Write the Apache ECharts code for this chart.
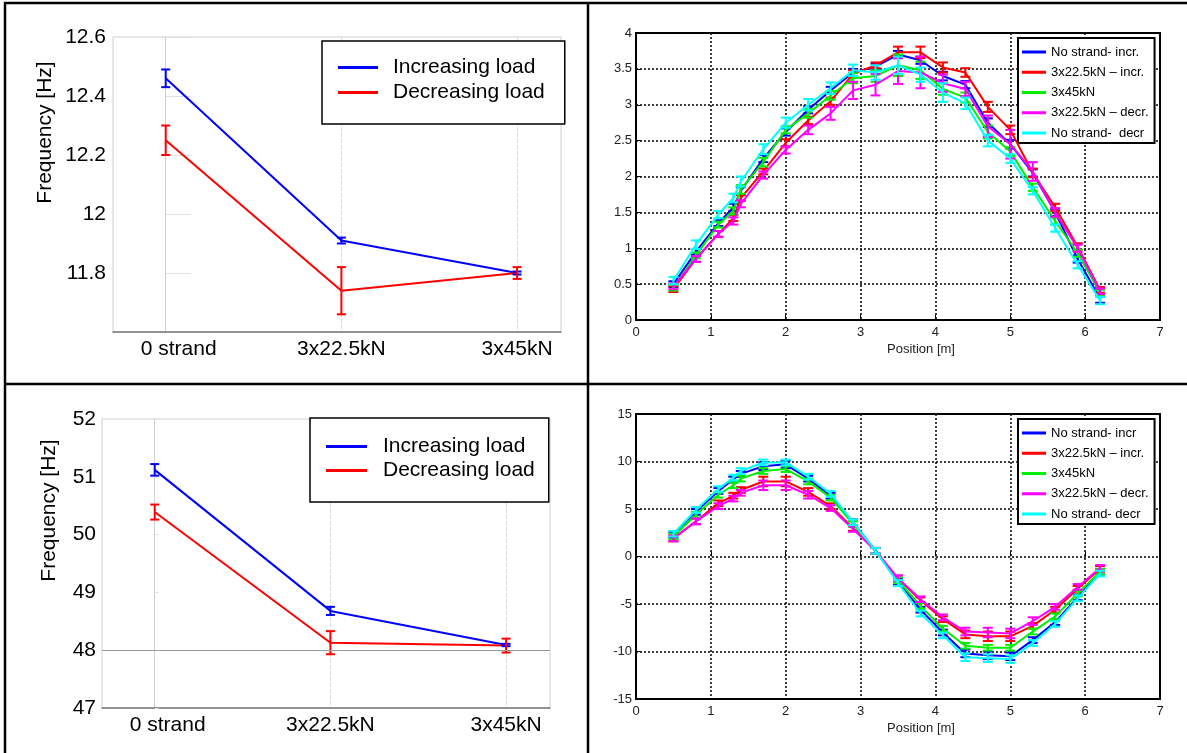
<!DOCTYPE html>
<html><head><meta charset="utf-8">
<script src="https://cdn.jsdelivr.net/npm/echarts@6/dist/echarts.min.js"></script>
<style>html,body{margin:0;padding:0;background:#fff}#c{width:1187px;height:753px}</style>
</head><body><div id="c"></div>
<script>
// ---------- left panels (frequencies) ----------
const categories = ['0 strand', '3x22.5kN', '3x45kN'];
const f1Inc = [12.46, 11.91, 11.80];
const f1IncErr = [0.03, 0.01, 0.005];
const f1Dec = [12.25, 11.74, 11.80];
const f1DecErr = [0.05, 0.08, 0.02];
const f2Inc = [51.12, 48.68, 48.09];
const f2IncErr = [0.10, 0.07, 0.02];
const f2Dec = [50.39, 48.13, 48.08];
const f2DecErr = [0.13, 0.20, 0.12];
const leftSeriesNames = ['Increasing load', 'Decreasing load'];

// ---------- right panels (mode shapes) ----------
const positions = [0.5,0.8,1.1,1.3,1.4,1.7,2.0,2.3,2.6,2.9,3.2,3.5,3.8,4.1,4.4,4.7,5.0,5.3,5.6,5.9,6.2];
const mode1Names = ['No strand- incr.', '3x22.5kN \u2013 incr.', '3x45kN', '3x22.5kN \u2013 decr.', 'No strand-  decr'];
const mode1NoInc  = [0.50,0.95,1.35,1.57,1.80,2.25,2.62,2.93,3.20,3.45,3.53,3.70,3.62,3.40,3.28,2.75,2.45,2.05,1.50,0.85,0.30];
const mode1K22Inc = [0.43,0.85,1.20,1.42,1.70,2.07,2.47,2.78,3.05,3.43,3.55,3.73,3.73,3.52,3.45,2.97,2.65,2.05,1.57,1.02,0.42];
const mode1K45    = [0.45,0.90,1.33,1.52,1.82,2.20,2.65,2.88,3.13,3.37,3.40,3.55,3.48,3.22,3.10,2.62,2.35,1.85,1.38,0.93,0.38];
const mode1K22Dec = [0.47,0.85,1.20,1.38,1.62,2.02,2.37,2.65,2.88,3.20,3.28,3.47,3.45,3.30,3.22,2.70,2.45,2.07,1.50,1.00,0.40];
const mode1NoDec  = [0.55,1.05,1.47,1.70,1.93,2.38,2.75,3.00,3.23,3.48,3.45,3.55,3.42,3.17,3.02,2.50,2.25,1.80,1.28,0.77,0.27];
const mode1NoIncErr  = [0.04,0.04,0.04,0.05,0.05,0.05,0.05,0.05,0.05,0.05,0.04,0.05,0.05,0.06,0.05,0.06,0.06,0.05,0.05,0.05,0.06];
const mode1K22IncErr = [0.04,0.04,0.04,0.04,0.04,0.04,0.05,0.05,0.05,0.05,0.04,0.08,0.08,0.07,0.06,0.07,0.06,0.06,0.05,0.05,0.04];
const mode1K45Err    = [0.04,0.04,0.04,0.05,0.06,0.06,0.05,0.06,0.06,0.07,0.08,0.15,0.12,0.08,0.07,0.09,0.06,0.05,0.05,0.05,0.04];
const mode1K22DecErr = [0.04,0.04,0.04,0.05,0.05,0.05,0.05,0.06,0.09,0.12,0.15,0.18,0.22,0.12,0.10,0.15,0.20,0.13,0.06,0.05,0.04];
const mode1NoDecErr  = [0.05,0.06,0.05,0.06,0.07,0.07,0.07,0.08,0.08,0.08,0.10,0.12,0.10,0.13,0.08,0.08,0.06,0.05,0.05,0.05,0.05];

const mode2Names = ['No strand- incr', '3x22.5kN \u2013 incr.', '3x45kN', '3x22.5kN \u2013 decr.', 'No strand- decr'];
const mode2NoInc  = [2.3,4.7,6.9,8.1,8.7,9.5,9.7,8.2,6.4,3.6,0.6,-2.6,-5.6,-8.0,-10.2,-10.4,-10.5,-8.8,-6.9,-4.3,-1.6];
const mode2K22Inc = [1.9,3.7,5.6,6.4,7.0,7.9,7.9,6.8,5.3,3.0,0.6,-2.3,-4.6,-6.6,-8.2,-8.4,-8.4,-7.3,-5.6,-3.4,-1.3];
const mode2K45    = [2.1,4.4,6.5,7.5,8.2,9.0,9.2,7.9,6.2,3.4,0.6,-2.5,-5.2,-7.6,-9.4,-9.6,-9.6,-7.9,-6.3,-3.9,-1.6];
const mode2K22Dec = [1.9,3.7,5.3,6.1,6.7,7.5,7.5,6.5,5.1,2.9,0.6,-2.3,-4.5,-6.4,-7.9,-8.0,-8.1,-6.8,-5.3,-3.2,-1.2];
const mode2NoDec  = [2.4,4.9,7.1,8.3,9.0,9.9,9.9,8.4,6.6,3.6,0.6,-2.8,-6.0,-8.3,-10.6,-10.7,-10.8,-9.1,-7.1,-4.4,-1.8];
const mode2NoIncErr  = [0.3,0.3,0.3,0.3,0.3,0.4,0.4,0.3,0.3,0.3,0.3,0.3,0.3,0.3,0.4,0.4,0.4,0.3,0.3,0.3,0.3];
const mode2K22IncErr = [0.3,0.3,0.3,0.3,0.3,0.5,0.5,0.4,0.3,0.3,0.3,0.3,0.3,0.3,0.4,0.5,0.5,0.3,0.3,0.3,0.3];
const mode2K45Err    = [0.3,0.3,0.3,0.3,0.3,0.3,0.3,0.3,0.3,0.3,0.3,0.3,0.3,0.3,0.3,0.3,0.3,0.3,0.3,0.3,0.3];
const mode2K22DecErr = [0.3,0.3,0.3,0.3,0.3,0.5,0.5,0.4,0.3,0.3,0.3,0.3,0.3,0.3,0.4,0.5,0.5,0.4,0.3,0.3,0.3];
const mode2NoDecErr  = [0.3,0.3,0.3,0.3,0.3,0.3,0.3,0.3,0.3,0.3,0.3,0.3,0.3,0.3,0.4,0.4,0.4,0.3,0.3,0.3,0.3];

const rightColors = ['#0000ff', '#ff0000', '#00ee00', '#ff00ff', '#00ffff'];
const leftColors = ['#0000ff', '#ff0000'];

// ---------- helpers ----------
function errRender(color, cap, lw) {
  return function (params, api) {
    const x = api.value(0), lo = api.value(1), hi = api.value(2);
    const p1 = api.coord([x, lo]), p2 = api.coord([x, hi]);
    const style = { stroke: color, lineWidth: lw, fill: null };
    return { type: 'group', children: [
      { type: 'line', shape: { x1: p1[0], y1: p1[1], x2: p2[0], y2: p2[1] }, style: style },
      { type: 'line', shape: { x1: p1[0] - cap, y1: p1[1], x2: p1[0] + cap, y2: p1[1] }, style: style },
      { type: 'line', shape: { x1: p2[0] - cap, y1: p2[1], x2: p2[0] + cap, y2: p2[1] }, style: style }
    ]};
  };
}
function lineSeries(name, xs, ys, color, idx, z) {
  return { type: 'line', name: name, xAxisIndex: idx, yAxisIndex: idx,
    data: xs.map((x, i) => [x, ys[i]]), symbol: 'none', z: z,
    lineStyle: { color: color, width: 2 }, itemStyle: { color: color }, animation: false };
}
function errSeries(name, xs, ys, es, color, idx, cap, z) {
  return { type: 'custom', name: name, xAxisIndex: idx, yAxisIndex: idx,
    data: xs.map((x, i) => [x, ys[i] - es[i], ys[i] + es[i]]),
    encode: { x: 0, y: [1, 2] }, renderItem: errRender(color, cap, 2), z: z,
    itemStyle: { color: color }, animation: false, silent: true };
}

const catIdx = categories.map((c, i) => i);
const series = [];
// top-left
series.push(lineSeries(leftSeriesNames[0], catIdx, f1Inc, leftColors[0], 0, 3));
series.push(lineSeries(leftSeriesNames[1], catIdx, f1Dec, leftColors[1], 0, 3));
series.push(errSeries(leftSeriesNames[0], catIdx, f1Inc, f1IncErr, leftColors[0], 0, 4.5, 4));
series.push(errSeries(leftSeriesNames[1], catIdx, f1Dec, f1DecErr, leftColors[1], 0, 4.5, 4));
// bottom-left
const s2 = lineSeries(leftSeriesNames[0], catIdx, f2Inc, leftColors[0], 2, 3);
s2.markLine = { silent: true, symbol: 'none', label: { show: false }, animation: false,
  lineStyle: { color: '#999', type: 'solid', width: 1 }, data: [{ yAxis: 48 }] };
series.push(s2);
series.push(lineSeries(leftSeriesNames[1], catIdx, f2Dec, leftColors[1], 2, 3));
series.push(errSeries(leftSeriesNames[0], catIdx, f2Inc, f2IncErr, leftColors[0], 2, 4.5, 4));
series.push(errSeries(leftSeriesNames[1], catIdx, f2Dec, f2DecErr, leftColors[1], 2, 4.5, 4));
// top-right
const m1 = [mode1NoInc, mode1K22Inc, mode1K45, mode1K22Dec, mode1NoDec];
const m1e = [mode1NoIncErr, mode1K22IncErr, mode1K45Err, mode1K22DecErr, mode1NoDecErr];
m1.forEach((ys, k) => {
  series.push(lineSeries(mode1Names[k], positions, ys, rightColors[k], 1, 3 + k));
  series.push(errSeries(mode1Names[k], positions, ys, m1e[k], rightColors[k], 1, 5, 3 + k));
});
// bottom-right
const m2 = [mode2NoInc, mode2K22Inc, mode2K45, mode2K22Dec, mode2NoDec];
const m2e = [mode2NoIncErr, mode2K22IncErr, mode2K45Err, mode2K22DecErr, mode2NoDecErr];
m2.forEach((ys, k) => {
  series.push(lineSeries(mode2Names[k], positions, ys, rightColors[k], 3, 3 + k));
  series.push(errSeries(mode2Names[k], positions, ys, m2e[k], rightColors[k], 3, 5, 3 + k));
});

const FONT = 'Liberation Sans, Arial, sans-serif';
function catLabel(v) { return v === 0 ? '{o|' + categories[0] + '}' : categories[v]; }

function leftX(idx) {
  return { type: 'value', gridIndex: idx, min: -0.3, max: 2.25,
    axisLine: { show: true, lineStyle: { color: '#777', width: 1.5 } },
    axisTick: { show: false, customValues: [0, 1, 2] },
    axisLabel: { customValues: [0, 1, 2], formatter: catLabel, fontSize: 21, color: '#000', fontFamily: FONT, margin: 7,
      rich: { o: { padding: [0, 0, 0, 26], fontSize: 21, color: '#000', fontFamily: FONT } } },
    splitLine: { show: true, lineStyle: { type: 'dashed', color: '#d8d8d8', width: 1 } } };
}
function rightX(idx) {
  return { type: 'value', gridIndex: idx, min: 0, max: 7, interval: 1,
    name: 'Position [m]', nameLocation: 'middle', nameGap: 23,
    nameTextStyle: { fontSize: 13, color: '#222', fontFamily: FONT, padding: [0, 0, 0, 46] },
    axisLine: { show: false },
    axisTick: { show: true, inside: true, length: 5, lineStyle: { color: '#000' } },
    axisLabel: { fontSize: 13, color: '#222', fontFamily: FONT, margin: 6 },
    splitLine: { show: true, lineStyle: { type: [2, 2], color: '#000', width: 1.5 } } };
}
function rightY(idx, min, max, interval) {
  return { type: 'value', gridIndex: idx, min: min, max: max, interval: interval,
    axisLine: { show: false },
    axisTick: { show: true, inside: true, length: 5, lineStyle: { color: '#000' } },
    axisLabel: { fontSize: 13, color: '#222', fontFamily: FONT, margin: 4 },
    splitLine: { show: true, lineStyle: { type: [2, 2], color: '#000', width: 1.5 } } };
}
function rightLegend(names, top) {
  return { orient: 'vertical', left: 1018, top: top, data: names, icon: 'rect',
    itemWidth: 24, itemHeight: 3, itemGap: 6.25, selectedMode: false,
    textStyle: { fontSize: 13, lineHeight: 14, color: '#000', fontFamily: FONT },
    borderColor: '#000', borderWidth: 2, backgroundColor: '#fff', padding: [7, 6, 3, 4] };
}

const option = {
  animation: false,
  backgroundColor: '#fff',
  grid: [
    { left: 113, top: 37, width: 448, height: 295, show: true, borderColor: '#d0d0d0', borderWidth: 1 },
    { left: 636, top: 33, width: 524, height: 287, show: true, borderColor: '#000', borderWidth: 2 },
    { left: 102, top: 419, width: 448, height: 289, show: true, borderColor: '#d0d0d0', borderWidth: 1 },
    { left: 636, top: 414, width: 524, height: 285, show: true, borderColor: '#000', borderWidth: 2 }
  ],
  xAxis: [leftX(0), rightX(1), leftX(2), rightX(3)],
  yAxis: [
    { type: 'value', gridIndex: 0, min: 11.6, max: 12.6, interval: 0.2,
      name: 'Frequency [Hz]', nameLocation: 'middle', nameGap: 57, nameRotate: 90,
      nameTextStyle: { fontSize: 21, color: '#000', fontFamily: FONT, padding: [0, 0, 0, 104] },
      axisLine: { show: true, lineStyle: { color: '#d0d0d0' } },
      axisTick: { show: true, inside: true, length: 25, lineStyle: { color: '#e0e0e0' } },
      axisLabel: { fontSize: 21, color: '#000', fontFamily: FONT, margin: 7, showMinLabel: false },
      splitLine: { show: false } },
    rightY(1, 0, 4, 0.5),
    { type: 'value', gridIndex: 2, min: 47, max: 52, interval: 1,
      name: 'Frequency [Hz]', nameLocation: 'middle', nameGap: 42, nameRotate: 90,
      nameTextStyle: { fontSize: 21, color: '#000', fontFamily: FONT, padding: [0, 0, 0, 106] },
      axisLine: { show: true, lineStyle: { color: '#d0d0d0' } },
      axisTick: { show: true, inside: true, length: 4, lineStyle: { color: '#e0e0e0' } },
      axisLabel: { fontSize: 21, color: '#000', fontFamily: FONT, margin: 6 },
      splitLine: { show: false } },
    rightY(3, -15, 15, 5)
  ],
  legend: [
    { orient: 'vertical', left: 322, top: 41, data: leftSeriesNames, icon: 'rect',
      itemWidth: 40, itemHeight: 3, itemGap: 4, selectedMode: false,
      textStyle: { fontSize: 21, lineHeight: 21, color: '#000', fontFamily: FONT, padding: [0, 0, 0, 10] },
      borderColor: '#000', borderWidth: 1.5, backgroundColor: '#fff', padding: [16, 20, 21, 16] },
    { orient: 'vertical', left: 310, top: 418, data: leftSeriesNames, icon: 'rect',
      itemWidth: 41, itemHeight: 3, itemGap: 3, selectedMode: false,
      textStyle: { fontSize: 21, lineHeight: 21, color: '#000', fontFamily: FONT, padding: [0, 0, 0, 11] },
      borderColor: '#000', borderWidth: 1.5, backgroundColor: '#fff', padding: [18, 14, 21, 16] },
    rightLegend(mode1Names, 38),
    rightLegend(mode2Names, 419)
  ],
  graphic: [
    { type: 'line', shape: { x1: 4, y1: 3, x2: 1187, y2: 3 }, style: { stroke: '#000', lineWidth: 2.5 }, z: 100 },
    { type: 'line', shape: { x1: 5, y1: 2, x2: 5, y2: 753 }, style: { stroke: '#000', lineWidth: 2.5 }, z: 100 },
    { type: 'line', shape: { x1: 588, y1: 2, x2: 588, y2: 753 }, style: { stroke: '#000', lineWidth: 2.5 }, z: 100 },
    { type: 'line', shape: { x1: 4, y1: 384, x2: 1187, y2: 384 }, style: { stroke: '#000', lineWidth: 2.5 }, z: 100 }
  ],
  series: series
};

const chart = echarts.init(document.getElementById('c'), null, { renderer: 'canvas' });
chart.setOption(option);
</script>
</body></html>
